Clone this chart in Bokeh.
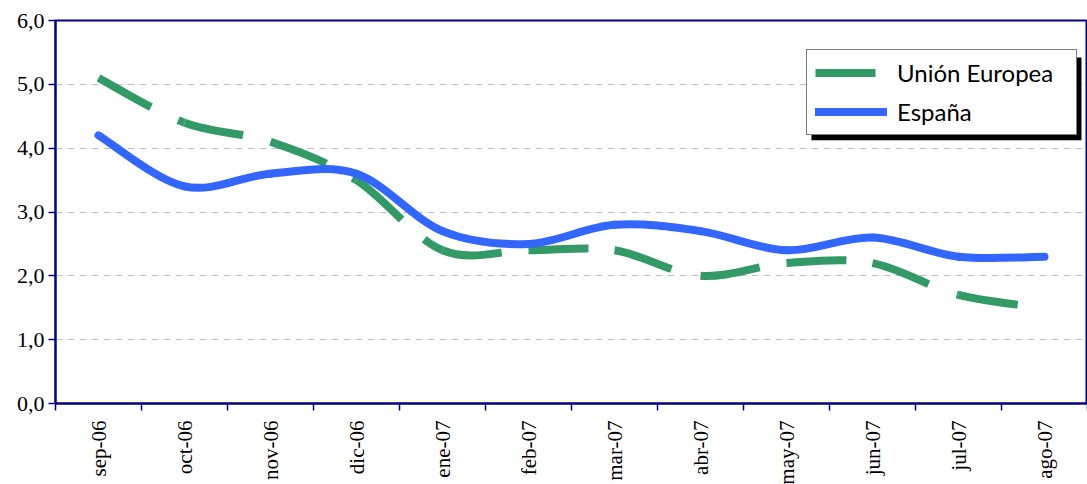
import math
from bokeh.plotting import figure
from bokeh.models import (FixedTicker, Range1d, Legend, LegendItem, BoxAnnotation)
from bokeh.embed import file_html
from bokeh.resources import INLINE

# ---- data ----
months = ["sep-06", "oct-06", "nov-06", "dic-06", "ene-07", "feb-07",
          "mar-07", "abr-07", "may-07", "jun-07", "jul-07", "ago-07"]
ue = [5.1, 4.4, 4.1, 3.5, 2.4, 2.4, 2.4, 2.0, 2.2, 2.2, 1.7, 1.5]
espana = [4.2, 3.4, 3.6, 3.6, 2.7, 2.5, 2.8, 2.7, 2.4, 2.6, 2.3, 2.3]
y_ticks = [0, 1, 2, 3, 4, 5, 6]
y_labels = ["0,0", "1,0", "2,0", "3,0", "4,0", "5,0", "6,0"]

GREEN = "#339966"
BLUE = "#3366FF"
NAVY = "#000080"

xs = [i + 0.5 for i in range(len(months))]


def bezier_segments(x, y):
    """Excel-like smoothing: Catmull-Rom converted to cubic Bezier segments."""
    n = len(x)
    out = dict(x0=[], y0=[], x1=[], y1=[], cx0=[], cy0=[], cx1=[], cy1=[])
    for i in range(n - 1):
        xp, yp = (x[i - 1], y[i - 1]) if i > 0 else (x[i], y[i])
        xn, yn = (x[i + 2], y[i + 2]) if i + 2 < n else (x[i + 1], y[i + 1])
        out["x0"].append(x[i]); out["y0"].append(y[i])
        out["x1"].append(x[i + 1]); out["y1"].append(y[i + 1])
        out["cx0"].append(x[i] + (x[i + 1] - xp) / 6.0)
        out["cy0"].append(y[i] + (y[i + 1] - yp) / 6.0)
        out["cx1"].append(x[i + 1] - (xn - x[i]) / 6.0)
        out["cy1"].append(y[i + 1] - (yn - y[i]) / 6.0)
    return out


p = figure(width=1087, height=487, output_backend="svg", toolbar_location=None,
           x_range=Range1d(0, 12), y_range=Range1d(0, 6),
           min_border_left=55, min_border_right=0, min_border_top=20,
           min_border_bottom=80)

p.background_fill_color = "white"
p.border_fill_color = "white"
p.outline_line_color = NAVY
p.outline_line_width = 2

# grid
p.xgrid.grid_line_color = None
p.ygrid.ticker = FixedTicker(ticks=[1, 2, 3, 4, 5])
p.ygrid.grid_line_color = "#C0C0C0"
p.ygrid.grid_line_dash = "7 5"
p.ygrid.grid_line_width = 1

# axes
p.xaxis.ticker = FixedTicker(ticks=xs, minor_ticks=list(range(13)))
p.xaxis.major_label_overrides = {x: m for x, m in zip(xs, months)}
p.xaxis.major_label_orientation = math.pi / 2
p.xaxis.major_tick_out = 0
p.xaxis.major_tick_in = 0
p.xaxis.minor_tick_out = 7
p.xaxis.minor_tick_in = 0
p.xaxis.minor_tick_line_color = NAVY
p.xaxis.minor_tick_line_width = 1.5
p.xaxis.major_label_standoff = 10

p.yaxis.ticker = FixedTicker(ticks=y_ticks)
p.yaxis.major_label_overrides = {t: l for t, l in zip(y_ticks, y_labels)}
p.yaxis.major_tick_out = 7
p.yaxis.major_tick_in = 0
p.yaxis.minor_tick_out = 0
p.yaxis.minor_tick_in = 0
p.yaxis.major_tick_line_color = NAVY
p.yaxis.major_tick_line_width = 1.5
p.yaxis.major_label_standoff = 4

for ax in (p.xaxis, p.yaxis):
    ax.axis_line_color = NAVY
    ax.axis_line_width = 2
    ax.major_label_text_font = "Liberation Serif"
    ax.major_label_text_color = "black"
p.yaxis.major_label_text_font_size = "22px"
p.xaxis.major_label_text_font_size = "21px"

# lines
ue_seg = bezier_segments(xs, ue)
es_seg = bezier_segments(xs, espana)

r_ue = p.bezier(x0="x0", y0="y0", x1="x1", y1="y1", cx0="cx0", cy0="cy0",
                cx1="cx1", cy1="cy1", source=ue_seg, line_color=GREEN,
                line_width=8, line_dash="60 30", line_cap="butt")
r_es = p.bezier(x0="x0", y0="y0", x1="x1", y1="y1", cx0="cx0", cy0="cy0",
                cx1="cx1", cy1="cy1", source=es_seg, line_color=BLUE,
                line_width=8, line_cap="round")

# legend shadow
shadow = BoxAnnotation(left=8.79, right=11.93, top=5.42, bottom=4.125,
                       fill_color="black", fill_alpha=1.0, line_color=None,
                       level="overlay")
p.add_layout(shadow)

legend = Legend(items=[LegendItem(label="Unión Europea", renderers=[r_ue]),
                       LegendItem(label="España", renderers=[r_es])],
                location=(751, 268), orientation="vertical")
legend.label_text_font = "Lato"
legend.label_text_font_size = "24px"
legend.label_text_color = "black"
legend.glyph_width = 72
legend.glyph_height = 27
legend.label_height = 27
legend.label_width = 171
legend.label_standoff = 10
legend.spacing = 10
legend.padding = 8
legend.margin = 0
legend.border_line_color = "black"
legend.border_line_width = 1
legend.background_fill_color = "white"
legend.background_fill_alpha = 1.0
legend.level = "overlay"
p.add_layout(legend, "center")

open("out.html", "w").write(file_html(p, INLINE))
